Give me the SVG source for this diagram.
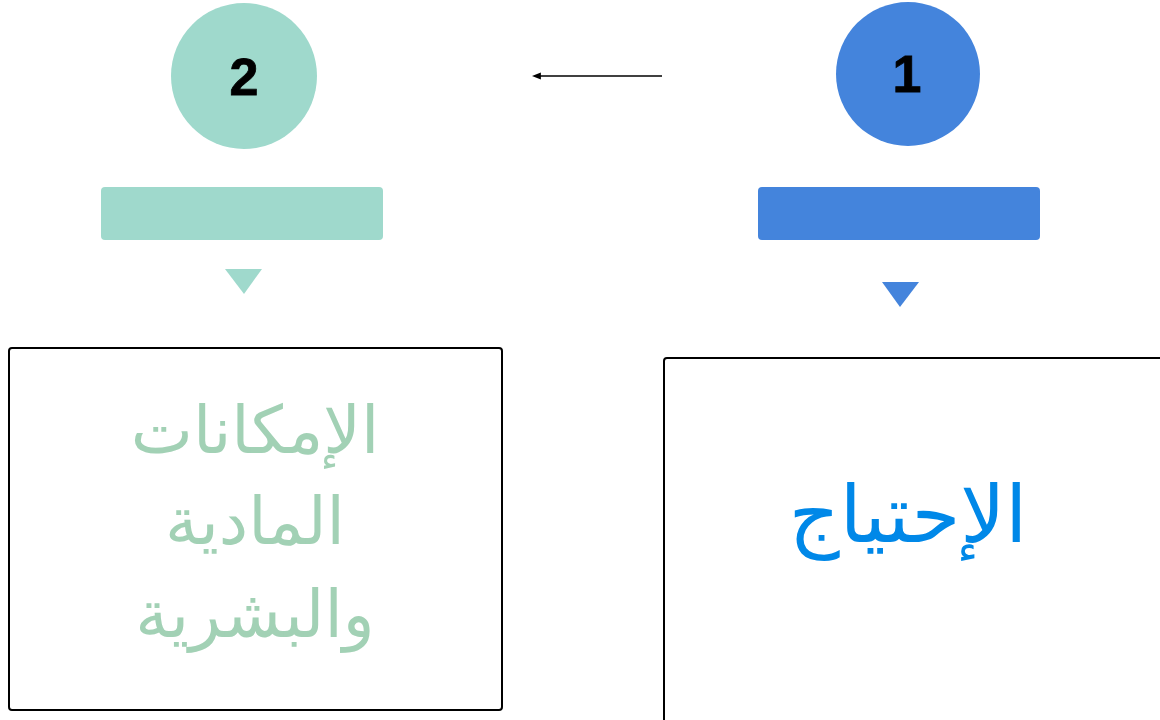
<svg xmlns="http://www.w3.org/2000/svg" width="1160" height="720" viewBox="0 0 1160 720">
<defs>
<style>
.num{font-family:"Liberation Sans",Arial,sans-serif;font-weight:bold;font-size:52px;fill:#000;text-anchor:middle;stroke:#000;stroke-width:0.8}
.box{fill:#fff;stroke:#000;stroke-width:2}
.ar{font-family:"Noto Sans","DejaVu Sans",sans-serif;text-anchor:middle;direction:rtl}
</style>
<marker id="ah" viewBox="0 0 10 10" refX="1" refY="5" markerWidth="6" markerHeight="6" orient="auto-start-reverse">
<path d="M0,1 L10,5 L0,9 z" fill="#000"/>
</marker>
</defs>
<rect width="1160" height="720" fill="#fff"/>
<g id="connectors">
<line x1="662" y1="76" x2="540" y2="76" stroke="#000" stroke-width="1.5" marker-end="url(#ah)"/>
</g>
<g id="node-2">
<circle cx="244" cy="76" r="73" fill="#9fd9cc"/>
<text class="num" x="244" y="95">2</text>
<rect x="101" y="187" width="282" height="53" rx="4" fill="#9fd9cc"/>
<path d="M225,269 L262,269 L244,294 z" fill="#9fd9cc"/>
<rect class="box" x="9" y="348" width="493" height="362" rx="3"/>
<text class="ar" x="255" fill="#a2d1b5" font-size="66"><tspan x="255" y="453">الإمكانات</tspan><tspan x="255" y="544">المادية</tspan><tspan x="255" y="637">والبشرية</tspan></text>
</g>
<g id="node-1">
<circle cx="908" cy="74" r="72" fill="#4484dc"/>
<text class="num" x="907" y="92">1</text>
<rect x="758" y="187" width="282" height="53" rx="4" fill="#4484dc"/>
<path d="M882,282 L919,282 L900,307 z" fill="#4484dc"/>
<rect class="box" x="664" y="358" width="520" height="380" rx="3"/>
<text class="ar" x="908" y="542" fill="#0088e8" font-size="79">الإحتياج</text>
</g>
</svg>
